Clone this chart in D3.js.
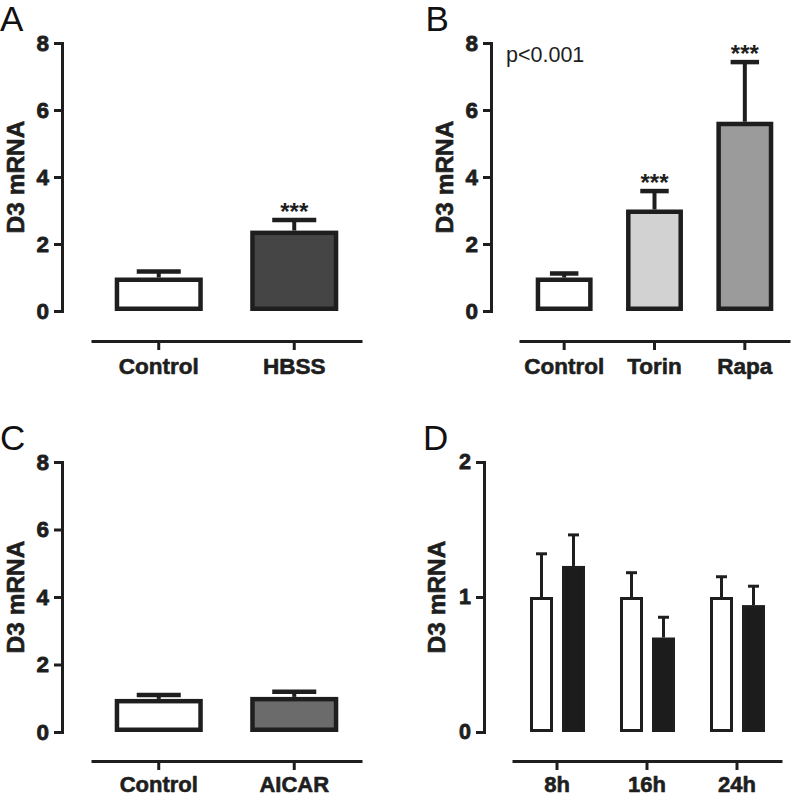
<!DOCTYPE html>
<html><head><meta charset="utf-8">
<script src="https://cdn.jsdelivr.net/npm/d3@7"></script>
<style>body{margin:0;background:#fff}svg{display:block}</style>
</head><body>
<svg id="c" width="793" height="797"></svg>
<script>
// ---- data ----
const catA = ["Control", "HBSS"];
const meanA = [1.0, 2.4];
const errA = [0.18, 0.32];
const fillA = ["#ffffff", "#454545"];
const sigA = ["", "***"];

const catB = ["Control", "Torin", "Rapa"];
const meanB = [1.0, 3.03, 5.65];
const errB = [0.12, 0.55, 1.78];
const fillB = ["#ffffff", "#d2d2d2", "#9b9b9b"];
const sigB = ["", "***", "***"];

const catC = ["Control", "AICAR"];
const meanC = [0.98, 1.04];
const errC = [0.12, 0.15];
const fillC = ["#ffffff", "#6b6b6b"];
const sigC = ["", ""];

const catD = ["8h", "16h", "24h"];
const groupsD = ["ctrl", "treat"];
const ctrlD = [1.0, 1.0, 1.0];
const ctrlErrD = [0.32, 0.18, 0.15];
const treatD = [1.23, 0.70, 0.94];
const treatErrD = [0.23, 0.15, 0.14];
const fillD = ["#ffffff", "#1c1c1c"];

const ticksABC = [0, 2, 4, 6, 8];
const ticksD = [0, 1, 2];
const yTitle = "D3 mRNA";

// ---- drawing ----
const FONT = "'Liberation Sans', Arial, Helvetica, sans-serif";
const INK = "#1e1e1e";
const svg = d3.select("#c");
svg.append("rect").attr("width", 793).attr("height", 797).attr("fill", "#fff");

function heavy(sel, w) {
  return sel.attr("stroke", INK).attr("stroke-width", w).attr("paint-order", "stroke").attr("stroke-linejoin", "round");
}

function axes(p) {
  const y = d3.scaleLinear().domain([0, p.ymax]).range(p.yr);
  const x = d3.scaleBand().domain(p.cats).range(p.xr).padding(0);
  const g = svg.append("g");
  // y axis
  const ya = g.append("g").attr("transform", `translate(${p.ax},0)`)
    .call(d3.axisLeft(y).tickValues(p.ticks).tickSize(8).tickSizeOuter(0).tickPadding(5).tickFormat(d3.format("d")));
  ya.select(".domain").attr("stroke", INK).attr("stroke-width", 3).attr("stroke-linecap", "square");
  ya.selectAll(".tick line").attr("stroke", INK).attr("stroke-width", 3);
  heavy(ya.selectAll(".tick text").attr("fill", INK).style("font", `bold ${p.tickFont}px ${FONT}`), 0.8);
  // x axis
  const xa = g.append("g").attr("transform", `translate(0,${p.xy})`)
    .call(d3.axisBottom(x).tickSize(9).tickSizeOuter(0).tickPadding(p.xPad));
  xa.select(".domain").attr("stroke", INK).attr("stroke-width", 3);
  xa.selectAll(".tick line").attr("stroke", INK).attr("stroke-width", 3);
  heavy(xa.selectAll(".tick text").attr("fill", INK).style("font", `bold ${p.xFont}px ${FONT}`), 0.6);
  // y title
  heavy(g.append("text").attr("transform", `translate(${p.titleX},${(p.yr[0] + p.yr[1]) / 2}) rotate(-90)`)
    .attr("text-anchor", "middle").attr("fill", INK)
    .style("font", `bold 24.5px ${FONT}`).text(yTitle), 0.6);
  // panel letter
  g.append("text").attr("x", p.lx).attr("y", p.ly).attr("fill", "#111")
    .style("font", `35px ${FONT}`).text(p.letter);
  return { x, y, g };
}

function simplePanel(p, cats, means, errs, fills, sigs) {
  const { x, y, g } = axes(Object.assign({ cats }, p));
  const sw = 4.5;
  const bw = x.step() * p.frac;
  const data = cats.map((c, i) => ({ c, v: means[i], e: errs[i], f: fills[i], s: sigs[i] }));
  const cx = d => x(d.c) + x.bandwidth() / 2;
  // error bars
  g.selectAll(".ev").data(data).enter().append("line")
    .attr("x1", cx).attr("x2", cx)
    .attr("y1", d => y(d.v)).attr("y2", d => y(d.v + d.e))
    .attr("stroke", INK).attr("stroke-width", 4);
  g.selectAll(".ec").data(data).enter().append("line")
    .attr("x1", d => cx(d) - bw / 4).attr("x2", d => cx(d) + bw / 4)
    .attr("y1", d => y(d.v + d.e)).attr("y2", d => y(d.v + d.e))
    .attr("stroke", INK).attr("stroke-width", 4.5);
  // bars
  g.selectAll(".bar").data(data).enter().append("rect")
    .attr("x", d => cx(d) - bw / 2 + sw / 2)
    .attr("y", d => y(d.v) + sw / 2)
    .attr("width", bw - sw)
    .attr("height", d => y(0) - y(d.v) - sw)
    .attr("fill", d => d.f).attr("stroke", INK).attr("stroke-width", sw);
  // significance
  g.selectAll(".sig").data(data.filter(d => d.s)).enter().append("text")
    .attr("x", cx).attr("y", d => y(d.v + d.e) + 0)
    .attr("text-anchor", "middle").attr("fill", INK)
    .style("font", `bold 24px ${FONT}`).text(d => d.s);
  return { x, y, g };
}

simplePanel({ ax: 62, yr: [311, 43], ymax: 8, ticks: ticksABC, xy: 341, xr: [91, 362], frac: 0.65,
  tickFont: 22.5, xFont: 22.5, xPad: 8, titleX: 24, letter: "A", lx: 0, ly: 31 }, catA, meanA, errA, fillA, sigA);

const pB = simplePanel({ ax: 491, yr: [311, 43], ymax: 8, ticks: ticksABC, xy: 341, xr: [519, 790], frac: 0.63,
  tickFont: 22.5, xFont: 22.5, xPad: 8, titleX: 453, letter: "B", lx: 425.5, ly: 31 }, catB, meanB, errB, fillB, sigB);
pB.g.append("text").attr("x", 506).attr("y", 62).attr("fill", INK)
  .style("font", `21.5px ${FONT}`).text("p<0.001");

simplePanel({ ax: 62, yr: [732, 462], ymax: 8, ticks: ticksABC, xy: 761, xr: [91, 362], frac: 0.65,
  tickFont: 22.5, xFont: 22, xPad: 6, titleX: 24, letter: "C", lx: 0, ly: 450 }, catC, meanC, errC, fillC, sigC);

// Panel D grouped
(function () {
  const { x, y, g } = axes({ cats: catD, ax: 484, yr: [732, 462], ymax: 2, ticks: ticksD, xy: 761, xr: [512, 782],
    tickFont: 21.5, xFont: 22, xPad: 6, titleX: 445, letter: "D", lx: 423, ly: 450 });
  const x1 = d3.scaleBand().domain(groupsD).range([-31.5, 32.5]).padding(0);
  const sw = 3, bw = 23;
  const data = [];
  catD.forEach((c, i) => {
    data.push({ c, k: "ctrl", v: ctrlD[i], e: ctrlErrD[i], f: fillD[0] });
    data.push({ c, k: "treat", v: treatD[i], e: treatErrD[i], f: fillD[1] });
  });
  const cx = d => x(d.c) + x.bandwidth() / 2 + x1(d.k) + x1.bandwidth() / 2;
  g.selectAll(".ev").data(data).enter().append("line")
    .attr("x1", cx).attr("x2", cx)
    .attr("y1", d => y(d.v)).attr("y2", d => y(d.v + d.e))
    .attr("stroke", INK).attr("stroke-width", 3);
  g.selectAll(".ec").data(data).enter().append("line")
    .attr("x1", d => cx(d) - 5.5).attr("x2", d => cx(d) + 5.5)
    .attr("y1", d => y(d.v + d.e)).attr("y2", d => y(d.v + d.e))
    .attr("stroke", INK).attr("stroke-width", 3);
  g.selectAll(".bar").data(data).enter().append("rect")
    .attr("x", d => cx(d) - bw / 2 + sw / 2)
    .attr("y", d => y(d.v) + sw / 2)
    .attr("width", bw - sw)
    .attr("height", d => y(0) - y(d.v) - sw)
    .attr("fill", d => d.f).attr("stroke", INK).attr("stroke-width", sw);
})();
</script>
</body></html>
